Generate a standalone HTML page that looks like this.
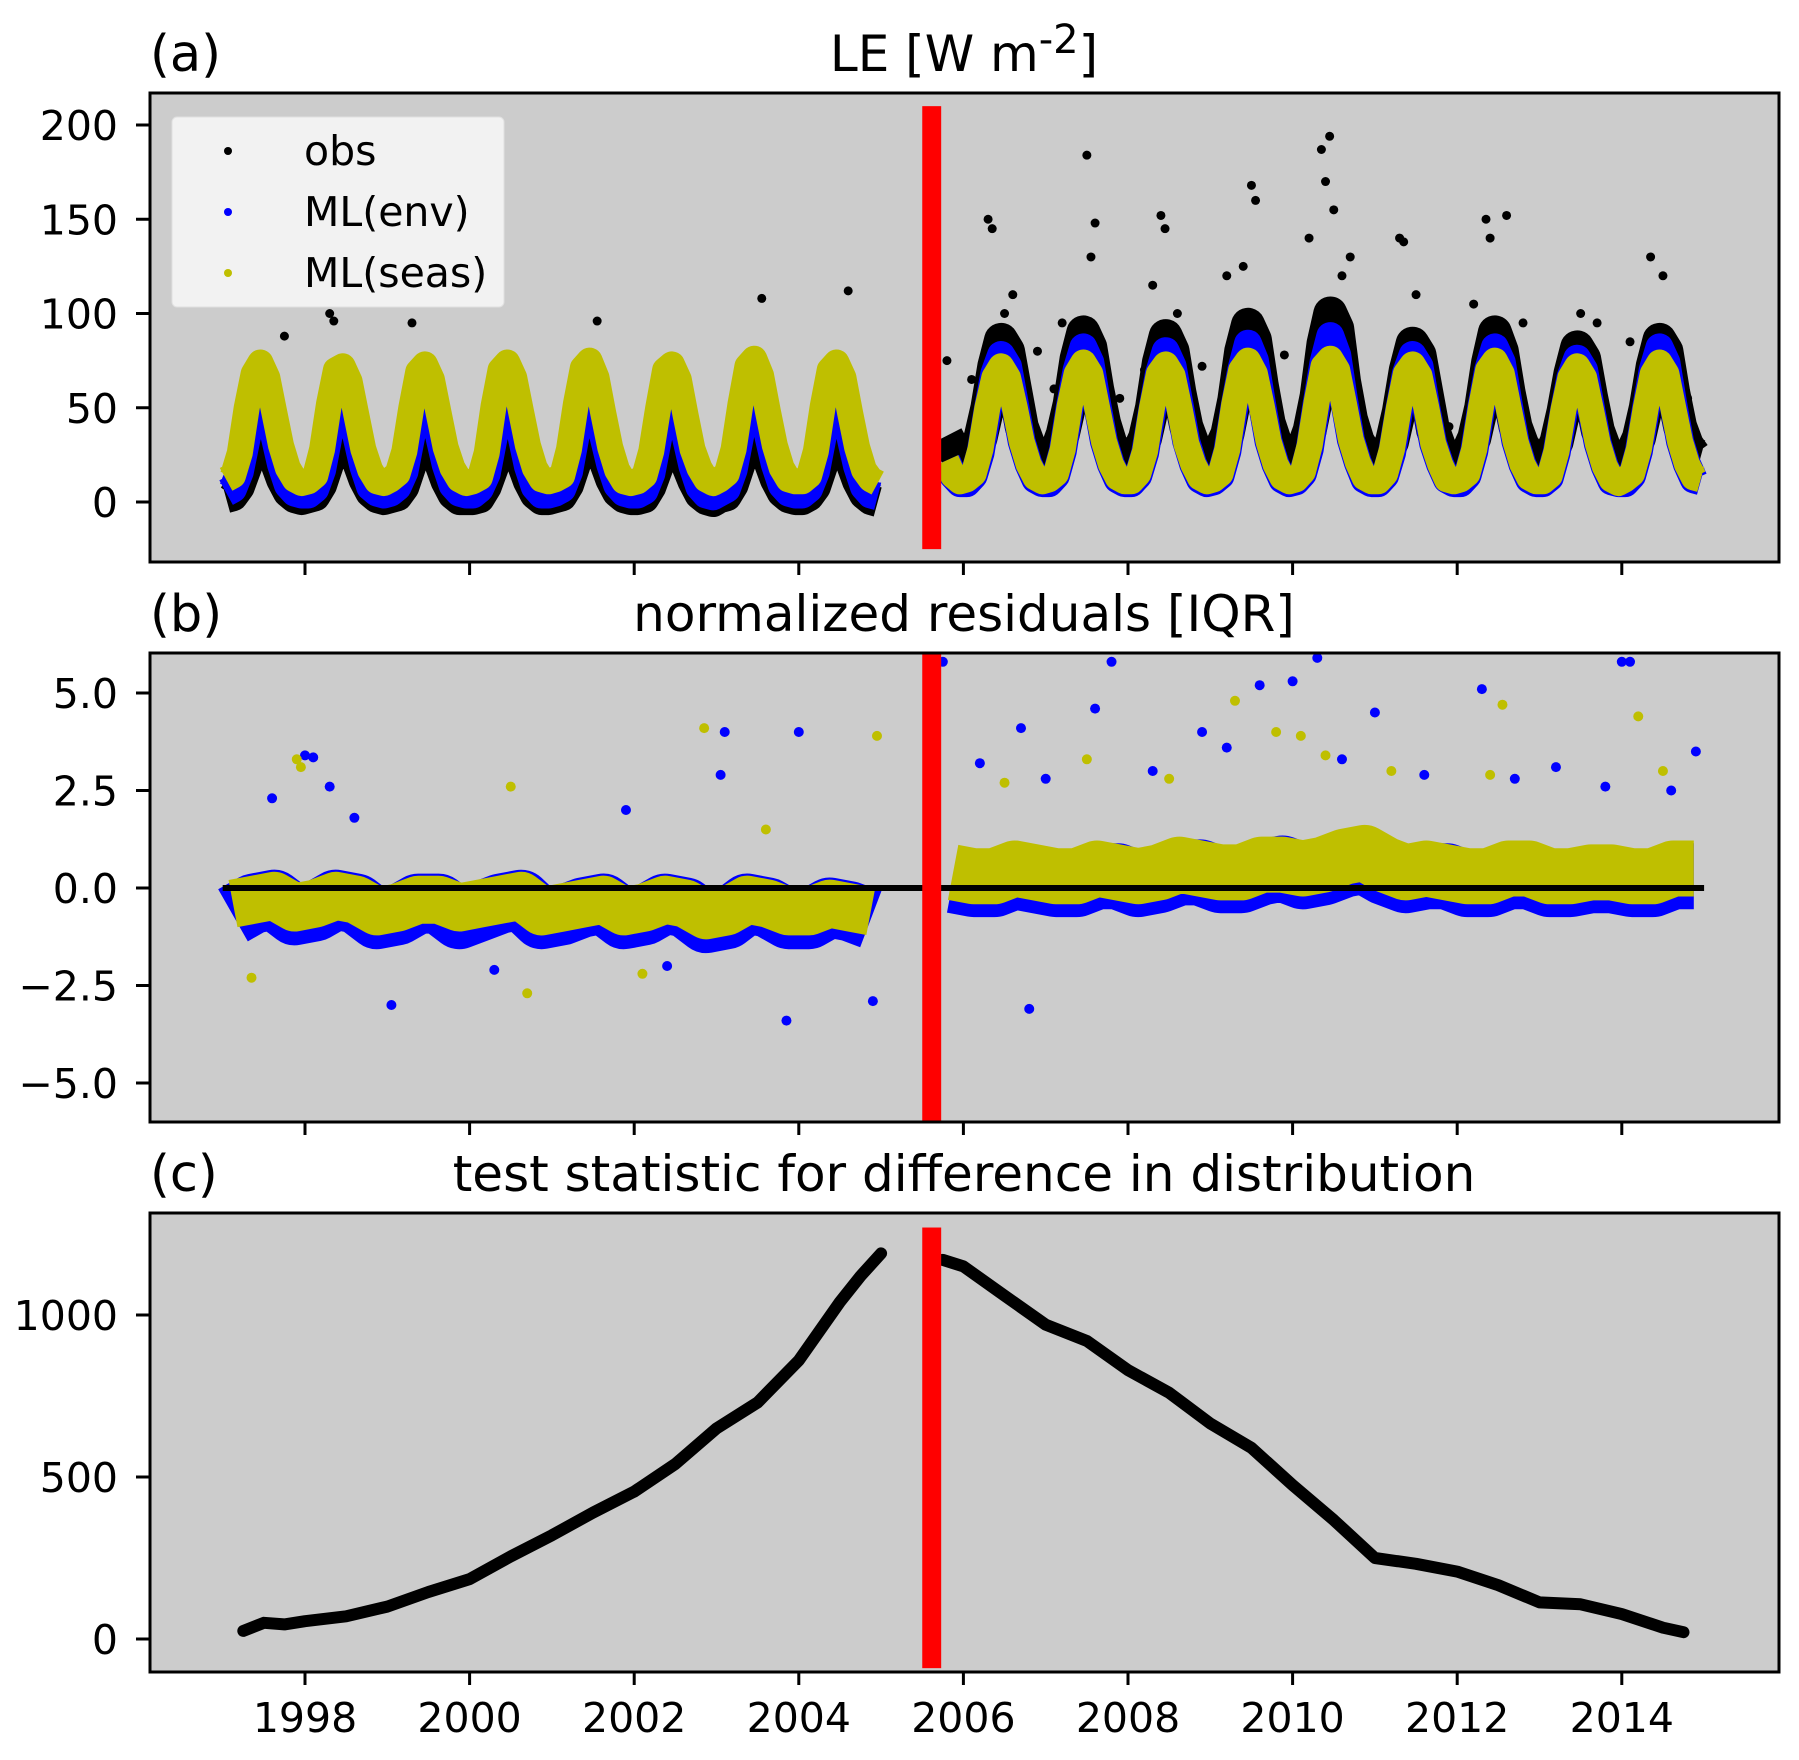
<!DOCTYPE html>
<html><head><meta charset="utf-8">
<style>
html,body{margin:0;padding:0;background:#fff;}
svg{display:block;font-family:"DejaVu Sans","Liberation Sans",sans-serif;}
</style></head>
<body>
<svg id="fig" width="1799" height="1760" viewBox="0 0 1799 1760" xmlns="http://www.w3.org/2000/svg">
<g id="pa"></g>
<g id="pb"></g>
<g id="pc"></g>
</svg>
<script>
// ---------------- data ----------------
const yearTicks = [1998,2000,2002,2004,2006,2008,2010,2012,2014];
const preStart = 1997.0;
const postStart = 2005.75;
const breakStart = 2005.5, breakEnd = 2005.73;

const yellowPre = [12,14,26,50,68,74,66,48,30,18,12,10, 11,14,28,52,70,72,64,46,28,17,11,10, 12,15,27,50,69,73,65,47,29,18,12,10, 11,13,26,51,70,74,66,48,30,18,12,11, 12,14,28,52,71,75,66,47,29,17,11,10, 11,14,27,50,70,73,65,46,28,18,12,10, 12,15,28,52,72,76,67,48,30,18,12,11, 11,14,27,51,70,74,66,47,29,17,12,10];
const bluePre   = [5,7,16,34,48,55,50,36,20,9,5,4, 4,7,17,36,52,58,50,35,19,8,5,4, 5,8,16,35,50,56,49,36,20,9,5,4, 4,7,15,34,49,55,50,36,19,8,4,4, 5,7,16,36,51,57,50,35,20,9,5,4, 4,6,15,34,48,54,49,35,19,8,4,3, 5,7,17,36,52,58,51,36,20,9,5,4, 4,7,16,35,50,56,50,35,19,8,4,3];
const obsPre    = [2,3,8,18,28,34,30,22,12,5,2,1, 2,3,9,20,30,36,31,22,12,5,2,1, 2,3,8,19,30,35,30,21,11,4,1,1, 1,2,8,18,28,33,29,21,11,4,1,1, 2,3,9,20,31,36,31,22,12,5,2,1, 1,2,8,18,28,33,29,20,11,4,1,0, 2,3,9,20,30,36,31,22,12,5,2,1, 1,3,8,19,30,35,30,21,11,4,1,0];
const yellowPost = [22,14,11, 12,15,28,50,66,72,66,50,32,20,13,11, 12,15,28,51,68,74,68,50,32,20,13,11, 11,15,27,50,68,73,67,50,31,20,13,11, 12,15,28,52,70,75,68,51,32,20,13,11, 12,16,30,53,72,76,70,52,33,21,13,11, 11,15,28,50,68,73,67,50,31,20,12,11, 12,15,28,51,70,75,68,50,32,20,13,11, 11,14,27,49,66,72,66,49,31,19,12,10, 12,15,28,50,68,74,68,50,32,20,13,12];
const bluePost   = [22,14,10, 10,14,26,48,68,78,72,52,32,20,12,10, 10,14,27,50,70,82,74,52,32,20,12,10, 10,14,26,48,68,80,72,52,32,20,12,10, 11,14,27,50,70,84,75,53,32,20,12,10, 11,15,28,52,74,88,78,54,33,21,12,10, 10,14,26,48,68,78,72,50,31,20,12,10, 10,14,27,50,70,82,74,52,32,20,12,10, 10,13,26,47,66,76,70,50,31,19,11,10, 10,14,27,49,70,82,74,52,32,20,12,11];
const obsPost    = [35,28,24, 24,26,34,50,72,86,80,60,40,30,26,24, 24,26,36,52,76,90,82,60,42,30,26,24, 24,26,34,50,74,88,80,58,40,30,26,24, 24,28,36,54,80,94,86,62,42,31,26,24, 26,28,38,56,84,100,92,64,44,32,26,24, 22,24,32,48,70,84,78,58,38,28,24,22, 23,26,34,50,74,90,80,58,40,30,25,23, 22,24,32,48,68,82,76,56,38,28,24,22, 23,26,34,50,72,86,80,58,40,30,25,24];
const obsOutT = [1997.75,1998.3,1998.35,1999.3,2001.55,2003.55,2004.6,2005.8,2006.3,2006.35,2006.9,2007.2,2007.5,2007.6,2007.55,2008.4,2008.45,2008.3,2009.5,2009.55,2009.4,2010.2,2010.35,2010.45,2010.5,2010.4,2011.3,2011.35,2012.35,2012.4,2012.6,2013.5,2014.35,2014.5,2009.9,2008.9,2006.1,2006.6,2007.1,2007.9,2008.6,2009.2,2010.7,2011.5,2011.9,2012.8,2013.3,2014.1,2014.8,2006.5,2008.2,2010.6,2012.2,2013.7];
const obsOutV = [88,100,96,95,96,108,112,75,150,145,80,95,184,148,130,152,145,115,168,160,125,140,187,194,155,170,140,138,150,140,152,100,130,120,78,72,65,110,60,55,100,120,130,110,40,95,60,85,55,100,70,120,105,95];

const ylwResPre  = [-0.4,-0.3,-0.2,-0.5, -0.4,-0.2,-0.3,-0.6, -0.5,-0.3,-0.3,-0.5, -0.4,-0.3,-0.2,-0.6, -0.5,-0.4,-0.3,-0.6, -0.5,-0.3,-0.4,-0.7, -0.6,-0.3,-0.4,-0.6, -0.6,-0.4,-0.5,-0.6];
const blueResPre = [-0.7,-0.4,-0.3,-0.7, -0.6,-0.3,-0.4,-0.8, -0.7,-0.4,-0.4,-0.8, -0.6,-0.4,-0.3,-0.8, -0.7,-0.5,-0.4,-0.8, -0.7,-0.4,-0.5,-0.9, -0.8,-0.4,-0.5,-0.8, -0.8,-0.5,-0.6,-0.8];
const ylwResPost  = [0.4,0.3, 0.3,0.5,0.4,0.3, 0.3,0.5,0.4,0.3, 0.4,0.6,0.5,0.4, 0.4,0.6,0.6,0.5, 0.6,0.8,0.9,0.6, 0.4,0.5,0.4,0.3, 0.3,0.5,0.5,0.3, 0.3,0.4,0.4,0.3, 0.3,0.5,0.5];
const blueResPost = [0.2,0.1, 0.1,0.3,0.2,0.1, 0.1,0.3,0.3,0.1, 0.2,0.4,0.4,0.2, 0.2,0.4,0.5,0.3, 0.4,0.6,0.7,0.4, 0.2,0.3,0.3,0.1, 0.1,0.3,0.3,0.1, 0.1,0.2,0.2,0.1, 0.1,0.3,0.3];
const blueOutT = [1998.0,1998.1,1998.3,1999.05,2003.05,2003.1,2004.0,2003.85,2004.9,2005.75,2007.8,2009.6,2010.3,2011.0,2012.3,2014.0,2014.1,2006.8,2008.9,2010.0,2006.7,2007.6,2013.2,2014.9,1997.6,1998.6,2000.3,2001.9,2002.4,2006.2,2007.0,2008.3,2009.2,2010.6,2011.6,2012.7,2013.8,2014.6];
const blueOutV = [3.4,3.35,2.6,-3.0,2.9,4.0,4.0,-3.4,-2.9,5.8,5.8,5.2,5.9,4.5,5.1,5.8,5.8,-3.1,4.0,5.3,4.1,4.6,3.1,3.5,2.3,1.8,-2.1,2.0,-2.0,3.2,2.8,3.0,3.6,3.3,2.9,2.8,2.6,2.5];
const ylwOutT = [1997.9,1997.95,2002.85,2004.95,2009.3,2009.8,2010.1,2012.55,2014.2,1997.35,2000.7,2000.5,2007.5,2011.2,2006.5,2008.5,2010.4,2012.4,2014.5,2002.1,2003.6];
const ylwOutV = [3.3,3.1,4.1,3.9,4.8,4.0,3.9,4.7,4.4,-2.3,-2.7,2.6,3.3,3.0,2.7,2.8,3.4,2.9,3.0,-2.2,1.5];

const statPreT = [1997.25,1997.5,1997.75,1998.0,1998.5,1999.0,1999.5,2000.0,2000.5,2001.0,2001.5,2002.0,2002.5,2003.0,2003.5,2004.0,2004.5,2004.75,2005.0];
const statPreV = [25,50,45,55,70,100,145,185,255,320,390,455,540,650,730,860,1040,1120,1190];
const statPostT = [2005.75,2006.0,2006.5,2007.0,2007.5,2008.0,2008.5,2009.0,2009.5,2010.0,2010.5,2011.0,2011.5,2012.0,2012.5,2013.0,2013.5,2014.0,2014.5,2014.75];
const statPostV = [1170,1150,1060,970,920,830,760,665,590,475,367,250,232,208,166,113,107,77,35,21];

// ---------------- layout ----------------
const NS = "http://www.w3.org/2000/svg";
const X0 = 150, X1 = 1779;
const xs = t => 305 + (t - 1998) * 82.3;
const panels = {
  a:{top:93,bottom:562, y:v=>502-1.885*v},
  b:{top:653,bottom:1122, y:v=>888-39*v},
  c:{top:1213,bottom:1672, y:v=>1639-0.324*v}
};
function el(tag, attrs, parent, text){
  const e = document.createElementNS(NS, tag);
  for (const k in attrs) e.setAttribute(k, attrs[k]);
  if (text !== undefined) e.textContent = text;
  parent.appendChild(e);
  return e;
}
function frameBg(g,p){
  const r = el('rect',{x:X0,y:p.top,width:X1-X0,height:p.bottom-p.top,fill:'#cccccc'},g);
  
  
}
function frame(g,p,labels){
  const r = el('rect',{x:X0,y:p.top,width:X1-X0,height:p.bottom-p.top,fill:'none',stroke:'#000','stroke-width':3},g);
  
  
  yearTicks.forEach(yr=>{
    const x = xs(yr);
    const t = el('line',{x1:x,x2:x,y1:p.bottom,y2:p.bottom+13,stroke:'#000','stroke-width':3},g);
    
    
    if (labels){
      const tx = el('text',{x:x,y:p.bottom+60,'font-size':41,'text-anchor':'middle'},g,String(yr));
      
      
    }
  });
}
function yTicks(g,p,vals,labs){
  vals.forEach((v,i)=>{
    const y = p.y(v);
    const t = el('line',{x1:X0-14,x2:X0,y1:y,y2:y,stroke:'#000','stroke-width':3},g);
    
    
    const tx = el('text',{x:118,y:y+15,'font-size':41,'text-anchor':'end'},g,labs[i]);
    
    
  });
}
function titles(g,p,tag){
  const a = el('text',{x:150,y:p.top-22,'font-size':51},g,tag);
  
  
  const t = el('text',{x:964,y:p.top-22,'font-size':50,'text-anchor':'middle'},g);
  
  
  return t;
}
function redBar(g,p,v0,v1){
  const y0 = v0===null ? p.top : p.y(v0);
  const y1 = v1===null ? p.bottom : p.y(v1);
  const r = el('rect',{x:xs(breakStart),y:y0,width:xs(breakEnd)-xs(breakStart),height:y1-y0,fill:'#ff0000'},g);
  
  
}
function monthlyPath(arr,start,p){
  return arr.map((v,i)=>(i?'L':'M')+xs(start+(i+0.5)/12).toFixed(1)+','+p.y(v).toFixed(1)).join(' ');
}
function seriesPath(ts,vs,p){
  return ts.map((t,i)=>(i?'L':'M')+xs(t).toFixed(1)+','+p.y(vs[i]).toFixed(1)).join(' ');
}
function band(g,d,color,w,name,cap){
  const pth = el('path',{d:d,fill:'none',stroke:color,'stroke-width':w,'stroke-linejoin':'round','stroke-linecap':cap||'butt'},g);
  
  
}
function points(g,ts,vs,p,color,r,name){
  ts.forEach((t,i)=>{
    const c = el('circle',{cx:xs(t),cy:p.y(vs[i]),r:r,fill:color},g);
    
    
  });
}

// ---------------- panel a ----------------
(function(){
  const g = document.getElementById('pa'), p = panels.a;
  frameBg(g,p);
  band(g,monthlyPath(obsPre,preStart,p),'#000',30,'obs-band');
  band(g,monthlyPath(obsPost,postStart,p),'#000',34,'obs-band');
  points(g,obsOutT,obsOutV,p,'#000',4.5,'obs-point');
  band(g,monthlyPath(bluePre,preStart,p),'#0000ff',28,'ml-env-band');
  band(g,monthlyPath(bluePost,postStart,p),'#0000ff',28,'ml-env-band');
  band(g,monthlyPath(yellowPre,preStart,p),'#bfbf00',26,'ml-seas-band');
  band(g,monthlyPath(yellowPost,postStart,p),'#bfbf00',26,'ml-seas-band');
  redBar(g,p,210,-25);
  const lg = el('g',{},g);
  
  
  el('rect',{x:172,y:117,width:332,height:190,rx:5,fill:'#f2f2f2',stroke:'#e0e0e0','stroke-width':1},lg);
  const ents = [['obs','#000',151],['ML(env)','#0000ff',212],['ML(seas)','#bfbf00',273]];
  ents.forEach(e=>{
    const m = el('circle',{cx:228,cy:e[2],r:4,fill:e[1]},lg);
    
    
    const t = el('text',{x:304,y:e[2]+14,'font-size':41},lg,e[0]);
    
    
  });
  frame(g,p,false);
  yTicks(g,p,[0,50,100,150,200],['0','50','100','150','200']);
  const t = titles(g,p,'(a)');
  t.appendChild(document.createTextNode('LE [W m'));
  el('tspan',{dy:-18,'font-size':40},t,'-2');
  el('tspan',{dy:18},t,']');
})();

// ---------------- panel b ----------------
(function(){
  const g = document.getElementById('pb'), p = panels.b;
  frameBg(g,p);
  const qPre = ylwResPre.map((_,i)=>preStart+0.125+i*0.25);
  const qPost = ylwResPost.map((_,i)=>postStart+0.125+i*0.25);
  band(g,seriesPath(qPre,blueResPre,p),'#0000ff',60,'ml-env-residual-band');
  band(g,seriesPath(qPost,blueResPost,p),'#0000ff',66,'ml-env-residual-band');
  band(g,seriesPath(qPre,ylwResPre,p),'#bfbf00',48,'ml-seas-residual-band');
  band(g,seriesPath(qPost,ylwResPost,p),'#bfbf00',56,'ml-seas-residual-band');
  points(g,blueOutT,blueOutV,p,'#0000ff',5,'ml-env-residual-point');
  points(g,ylwOutT,ylwOutV,p,'#bfbf00',5,'ml-seas-residual-point');
  const zl = el('line',{x1:xs(1997.0),x2:xs(2015.0),y1:p.y(0),y2:p.y(0),stroke:'#000','stroke-width':6},g);
  
  
  redBar(g,p,null,null);
  frame(g,p,false);
  yTicks(g,p,[5,2.5,0,-2.5,-5],['5.0','2.5','0.0','\u22122.5','\u22125.0']);
  const t = titles(g,p,'(b)');
  t.textContent = 'normalized residuals [IQR]';
})();

// ---------------- panel c ----------------
(function(){
  const g = document.getElementById('pc'), p = panels.c;
  frameBg(g,p);
  band(g,seriesPath(statPreT,statPreV,p),'#000',12,'test-statistic-line','round');
  band(g,seriesPath(statPostT,statPostV,p),'#000',12,'test-statistic-line','round');
  redBar(g,p,1270,-90);
  frame(g,p,true);
  yTicks(g,p,[0,500,1000],['0','500','1000']);
  const t = titles(g,p,'(c)');
  t.textContent = 'test statistic for difference in distribution';
})();
</script>
</body></html>
